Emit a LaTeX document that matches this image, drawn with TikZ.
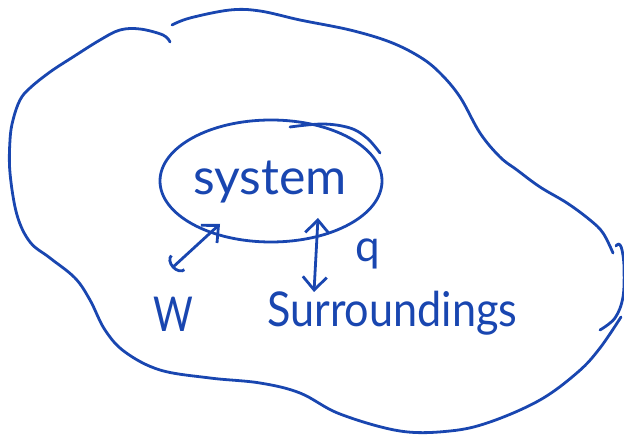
\documentclass[tikz,border=0pt]{standalone}
\usepackage{fontspec}
\setmainfont{Lato}
\usetikzlibrary{arrows.meta,shapes.geometric}
\definecolor{ink}{HTML}{1946B0}
\begin{document}
\begin{tikzpicture}[x=1pt,y=-1pt,
  pen/.style={draw=ink, line width=2.8pt, line cap=round, line join=round},
  lbl/.style={text=ink, inner sep=0pt},
  both/.style={{Straight Barb[length=13pt,width=24pt]}-{Straight Barb[length=13pt,width=24pt]}},
  wboth/.style={{Arc Barb[length=8pt,width=22pt]}-{Straight Barb[length=13pt,width=24pt]}}]
\useasboundingbox (0,0) rectangle (624,435);
% outer surroundings boundary
\draw[pen] plot[smooth, tension=0.6] coordinates {
  (170,42) (163,35) (140,29) (120,30) (100,40) (73,57) (50,72) (30,88)
  (20,100) (13,120) (10,140) (10,173) (17,215) (30,242) (50,258) (75,278)
  (90,300) (105,330) (125,352) (160,370) (210,378) (260,383) (300,393)
  (340,414) (400,431) (450,431) (490,422) (540,400) (578,372) (600,348) (621,317)};
\draw[pen] plot[smooth, tension=0.6] coordinates {
  (172,25) (190,18) (230,10) (260,11) (300,20) (350,30) (390,42) (420,57)
  (440,73) (460,97) (480,133) (500,157) (517,170) (540,187) (567,203)
  (590,220) (603,233) (613,253)};
\draw[pen] plot[smooth, tension=0.6] coordinates {
  (616,246) (619,244) (622,250) (624,267) (623,297) (615,318) (600,330)};
% system
\node[ellipse, pen, minimum width=222pt, minimum height=122pt, inner sep=0pt] (sys) at (271,181) {};
\draw[pen] plot[smooth, tension=0.6] coordinates {(290,127) (323,124) (350,128) (367,138) (380,153)};
\node[lbl, anchor=base west, font=\fontsize{50}{50}\selectfont] (systxt) at (193,195) {system};
% labels
\node[lbl, anchor=base west, xscale=0.8, font=\fontsize{48}{48}\selectfont] (wlbl) at (153,332) {W};
\node[lbl, anchor=base west, font=\fontsize{44}{44}\selectfont] (qlbl) at (355,262) {q};
\node[lbl, anchor=base west, xscale=0.9, font=\fontsize{48}{48}\selectfont] (surr) at (267,327) {Surroundings};
% arrows
\coordinate (wa) at (172,268);
\coordinate (wb) at (220,224);
\coordinate (qa) at (318,218);
\coordinate (qb) at (314,292);
\draw[pen, wboth] (wa) -- (wb);
\draw[pen, both] (qb) -- (qa);
\end{tikzpicture}
\end{document}
